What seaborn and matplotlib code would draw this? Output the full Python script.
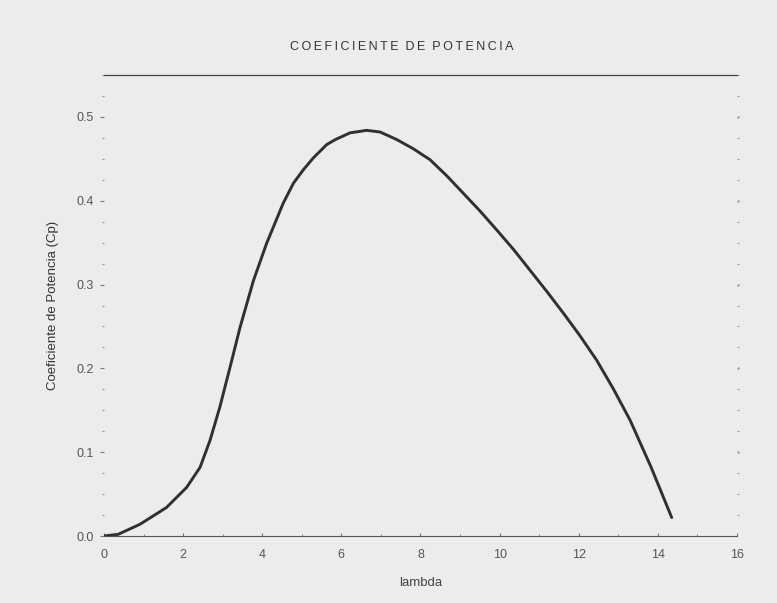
import matplotlib
matplotlib.use("Agg")
import matplotlib.pyplot as plt
from matplotlib.ticker import MultipleLocator
import seaborn as sns
import pandas as pd

lam = [0.0, 0.36, 0.91, 1.58, 2.09, 2.43, 2.68, 2.93, 3.19, 3.44, 3.78, 4.11, 4.53,
       4.79, 5.04, 5.29, 5.63, 5.85, 6.22, 6.64, 6.98, 7.40, 7.82, 8.24, 8.66, 9.08,
       9.50, 9.93, 10.35, 10.77, 11.19, 11.61, 12.03, 12.45, 12.87, 13.30, 13.83, 14.35]
cp = [0.0, 0.002, 0.014, 0.034, 0.058, 0.082, 0.114, 0.154, 0.202, 0.249, 0.305, 0.349,
      0.397, 0.421, 0.437, 0.451, 0.467, 0.473, 0.481, 0.484, 0.482, 0.473, 0.462,
      0.449, 0.430, 0.409, 0.388, 0.365, 0.342, 0.317, 0.292, 0.266, 0.239, 0.210,
      0.176, 0.138, 0.082, 0.022]
x_ticks = [0, 2, 4, 6, 8, 10, 12, 14, 16]
y_ticks = [0.0, 0.1, 0.2, 0.3, 0.4, 0.5]
title = "COEFICIENTE DE POTENCIA"

sns.set_theme(style="white")
plt.rcParams['font.family'] = ['Liberation Sans', 'DejaVu Sans']

bg = '#ececec'
fig = plt.figure(figsize=(7.77, 6.03), dpi=100, facecolor=bg)
ax = fig.add_axes([0.1338, 0.1111, 0.8147, 0.7645])
ax.set_facecolor(bg)

df = pd.DataFrame({'lambda': lam, 'Cp': cp})
sns.lineplot(data=df, x='lambda', y='Cp', ax=ax, color='#303030', linewidth=2.1, sort=False)
ax.lines[0].set_solid_capstyle('round')
ax.lines[0].set_solid_joinstyle('round')

ax.set_xlim(0, 16)
ax.set_ylim(0, 0.55)
ax.set_xticks(x_ticks)
ax.set_xticklabels([str(v) for v in x_ticks])
ax.set_yticks(y_ticks)
ax.set_yticklabels([f"{v:.1f}" for v in y_ticks])
ax.xaxis.set_minor_locator(MultipleLocator(1))
ax.yaxis.set_minor_locator(MultipleLocator(0.025))

for s in ['left', 'right']:
    ax.spines[s].set_visible(False)
ax.spines['top'].set_color('#444444')
ax.spines['top'].set_linewidth(0.9)
ax.spines['bottom'].set_color('#555555')
ax.spines['bottom'].set_linewidth(0.8)

ax.tick_params(axis='y', which='major', left=True, right=False, direction='out', length=3,
               width=0.8, color='#777777', labelsize=9, labelcolor='#555555', pad=4)
ax.tick_params(axis='y', which='minor', left=True, right=True, direction='out', length=1.2,
               width=0.8, color='#999999')
ax.tick_params(axis='x', which='major', bottom=True, direction='in', length=2,
               width=0.8, color='#777777', labelsize=9, labelcolor='#555555', pad=9)
ax.tick_params(axis='x', which='minor', bottom=True, direction='in', length=1.5,
               width=0.8, color='#888888')
for v in y_ticks[1:]:
    ax.plot([16.02], [v], marker='.', markersize=1.5, color='#999999', clip_on=False)

ax.set_xlabel('lambda', fontsize=9.5, color='#444444', labelpad=12)
ax.set_ylabel('Coeficiente de Potencia (Cp)', fontsize=9.5, color='#333333', labelpad=13)

spaced = '\u2009'.join(list(title)).replace('\u2009 \u2009', '  ')
fig.text(402 / 777, 1 - 47 / 603, spaced, ha='center', va='center',
         fontsize=9, color='#333333')

fig.savefig('out.png', dpi=100, facecolor=bg)
